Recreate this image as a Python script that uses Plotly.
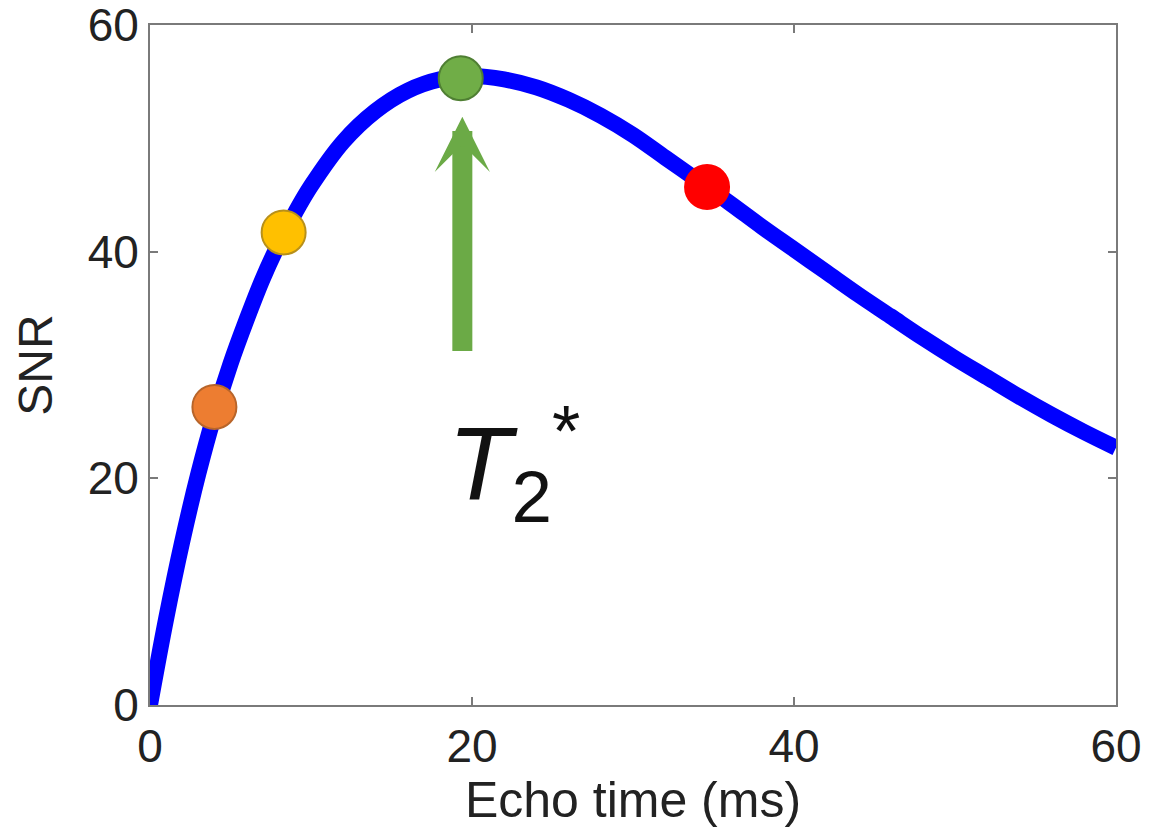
import plotly.graph_objects as go

# Curve
echo_time = [0, 1, 2, 3, 4, 5, 6, 7, 8, 9, 10, 12, 14, 16, 18, 20, 22, 24, 26, 28, 30,
             32, 34, 36, 38, 40, 42, 44, 46, 48, 50, 52, 54, 56, 58, 60]
snr = [0, 7.6, 14.4, 20.4, 25.6, 30.1, 34.0, 37.6, 40.7, 43.4, 45.8, 49.7, 52.4, 54.2,
       55.2, 55.5, 55.2, 54.5, 53.4, 52.0, 50.3, 48.3, 46.3, 44.3, 42.2, 40.2, 38.2,
       36.2, 34.3, 32.4, 30.6, 28.9, 27.2, 25.6, 24.1, 22.7]

# Highlighted points
pt_x = [4.0, 8.3, 19.3, 34.6]
pt_y = [26.3, 41.7, 55.3, 45.7]
pt_fill = ["#ED7D31", "#FFC000", "#70AD47", "#FF0000"]
pt_edge = ["#B8652A", "#B8901A", "#4F7F33", "#FF0000"]

x_ticks = [0, 20, 40, 60]
y_ticks = [0, 20, 40, 60]

# Arrow pointing at T2*
arrow_x = 19.4
arrow_tip_y = 51.9
arrow_tail_y = 31.1
label_x = 22.6
label_y = 21.3

FONT = "Liberation Sans"
TXT = "#222222"

fig = go.Figure()
fig.add_trace(go.Scatter(x=echo_time, y=snr, mode="lines", line=dict(color="#0000FF", width=16, shape="spline"),
                         hoverinfo="skip", cliponaxis=True))
fig.add_trace(go.Scatter(x=pt_x, y=pt_y, mode="markers",
                         marker=dict(size=44, color=pt_fill, line=dict(color=pt_edge, width=2)),
                         hoverinfo="skip"))

fig.add_annotation(x=arrow_x, y=arrow_tip_y, ax=arrow_x, ay=arrow_tail_y, xref="x", yref="y",
                   axref="x", ayref="y", text="", showarrow=True, arrowhead=3, arrowsize=0.46,
                   arrowwidth=20, arrowcolor="#6BAA46", standoff=0)
fig.add_annotation(x=label_x, y=label_y, xref="x", yref="y", showarrow=False,
                   text="<i>T</i><sub>2</sub><sup>*</sup>", font=dict(family=FONT, size=104, color="#111111"))

fig.update_layout(
    width=1149, height=834, showlegend=False,
    paper_bgcolor="white", plot_bgcolor="white",
    margin=dict(l=150, r=33, t=25, b=129, autoexpand=False),
    font=dict(family=FONT, size=46, color=TXT),
)
fig.update_xaxes(range=[0, 60], tickvals=x_ticks, ticktext=[str(v) for v in x_ticks],
                 showgrid=False, zeroline=False, showline=True, linecolor="#7a7a7a", linewidth=2,
                 mirror="ticks", ticks="inside", ticklen=8, tickcolor="#7a7a7a", tickwidth=2,
                 automargin=False, ticklabeloverflow="allow",
                 tickfont=dict(size=46, family=FONT, color=TXT),
                 title=dict(text="Echo time (ms)", font=dict(size=50, family=FONT, color=TXT), standoff=4))
fig.update_yaxes(range=[0, 60], tickvals=y_ticks, ticktext=[str(v) for v in y_ticks],
                 showgrid=False, zeroline=False, showline=True, linecolor="#7a7a7a", linewidth=2,
                 mirror="ticks", ticks="inside", ticklen=8, tickcolor="#7a7a7a", tickwidth=2,
                 automargin=False, ticklabeloverflow="allow",
                 tickfont=dict(size=46, family=FONT, color=TXT),
                 title=dict(text="SNR", font=dict(size=48, family=FONT, color=TXT), standoff=20))

fig.write_html("out.html")
